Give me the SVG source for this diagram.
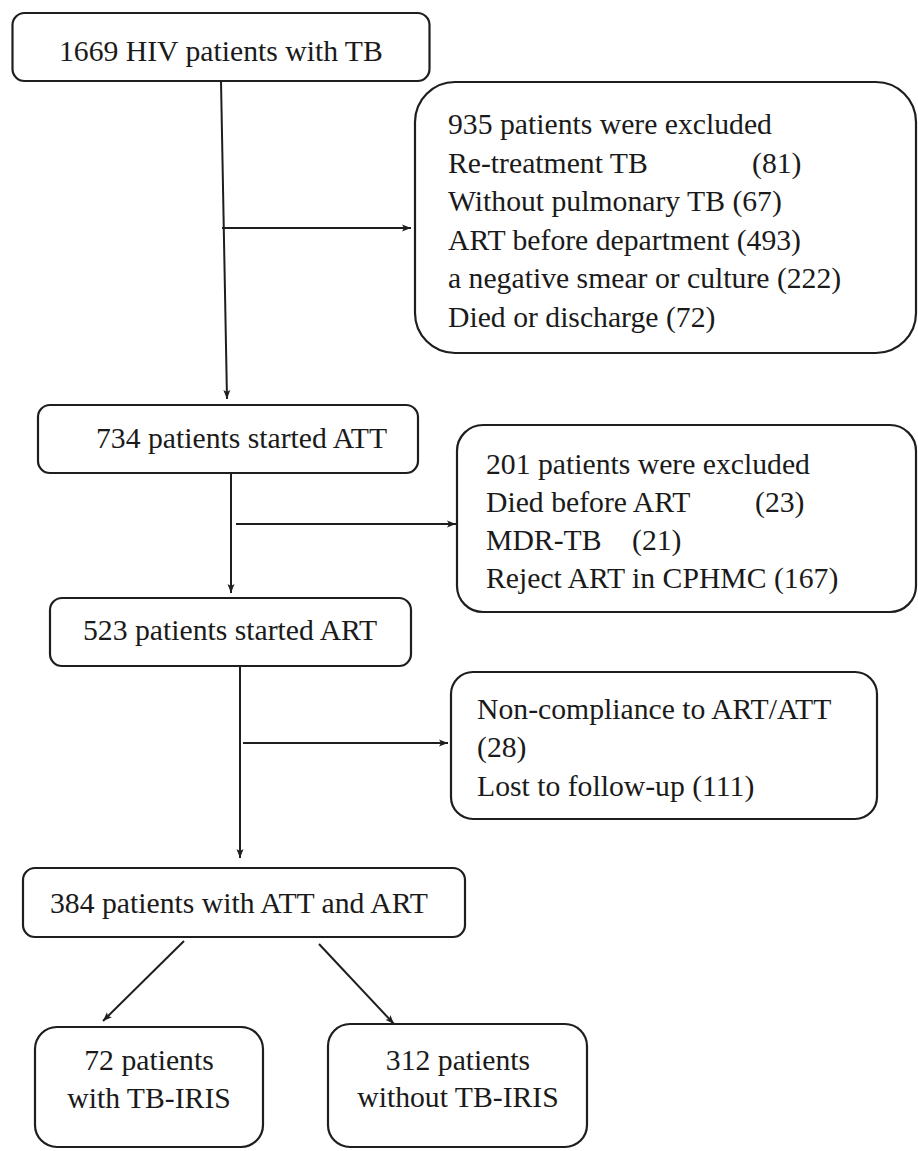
<svg xmlns="http://www.w3.org/2000/svg" width="918" height="1151" viewBox="0 0 918 1151">
<defs>
  <marker id="arr" markerUnits="userSpaceOnUse" markerWidth="10" markerHeight="8" refX="9" refY="4" orient="auto">
    <path d="M0,0.5 L9,4 L0,7.5 L2,4 z" fill="#1e1e1e"/>
  </marker>
</defs>
<rect width="918" height="1151" fill="#ffffff"/>

<g id="connectors" stroke="#1e1e1e" stroke-width="2" fill="none" marker-end="url(#arr)">
  <line x1="221" y1="81" x2="227" y2="399"/>
  <line x1="222" y1="228" x2="411" y2="228"/>
  <line x1="231" y1="474" x2="231" y2="593"/>
  <line x1="236" y1="524" x2="456" y2="524"/>
  <line x1="240" y1="666" x2="240" y2="858"/>
  <line x1="243" y1="743" x2="448" y2="743"/>
  <line x1="184" y1="941" x2="103" y2="1021"/>
  <line x1="319" y1="944" x2="394" y2="1024"/>
</g>

<g id="n1669">
  <rect x="12.5" y="13" width="417" height="68" rx="12" fill="#fff" stroke="#1e1e1e" stroke-width="2.2"/>
  <text x="59" y="61" style="font-family:'Liberation Serif','Times New Roman',serif;font-size:29.7px;fill:#1a1a1a">1669 HIV patients with TB</text>
</g>

<g id="n935">
  <rect x="415" y="82" width="501" height="271" rx="40" fill="#fff" stroke="#1e1e1e" stroke-width="2.2"/>
  <text x="448" y="134" style="font-family:'Liberation Serif','Times New Roman',serif;font-size:29.7px;fill:#1a1a1a">935 patients were excluded</text>
  <text x="448" y="172.5" style="font-family:'Liberation Serif','Times New Roman',serif;font-size:29.7px;fill:#1a1a1a">Re-treatment TB<tspan x="752">(81)</tspan></text>
  <text x="448" y="211" style="font-family:'Liberation Serif','Times New Roman',serif;font-size:29.7px;fill:#1a1a1a">Without pulmonary TB (67)</text>
  <text x="448" y="249.5" style="font-family:'Liberation Serif','Times New Roman',serif;font-size:29.7px;fill:#1a1a1a">ART before department (493)</text>
  <text x="448" y="288" style="font-family:'Liberation Serif','Times New Roman',serif;font-size:29.7px;fill:#1a1a1a">a negative smear or culture (222)</text>
  <text x="448" y="326.5" style="font-family:'Liberation Serif','Times New Roman',serif;font-size:29.7px;fill:#1a1a1a">Died or discharge (72)</text>
</g>

<g id="n734">
  <rect x="38" y="405" width="380" height="68" rx="12" fill="#fff" stroke="#1e1e1e" stroke-width="2.2"/>
  <text x="96" y="448" style="font-family:'Liberation Serif','Times New Roman',serif;font-size:29.7px;fill:#1a1a1a">734 patients started ATT</text>
</g>

<g id="n201">
  <rect x="457" y="425" width="459" height="187" rx="26" fill="#fff" stroke="#1e1e1e" stroke-width="2.2"/>
  <text x="486" y="474" style="font-family:'Liberation Serif','Times New Roman',serif;font-size:29.7px;fill:#1a1a1a">201 patients were excluded</text>
  <text x="486" y="512" style="font-family:'Liberation Serif','Times New Roman',serif;font-size:29.7px;fill:#1a1a1a">Died before ART<tspan x="755">(23)</tspan></text>
  <text x="486" y="550" style="font-family:'Liberation Serif','Times New Roman',serif;font-size:29.7px;fill:#1a1a1a">MDR-TB<tspan x="632">(21)</tspan></text>
  <text x="486" y="588" style="font-family:'Liberation Serif','Times New Roman',serif;font-size:29.7px;fill:#1a1a1a">Reject ART in CPHMC (167)</text>
</g>

<g id="n523">
  <rect x="50" y="598" width="361" height="68" rx="12" fill="#fff" stroke="#1e1e1e" stroke-width="2.2"/>
  <text x="83" y="640" style="font-family:'Liberation Serif','Times New Roman',serif;font-size:29.7px;fill:#1a1a1a">523 patients started ART</text>
</g>

<g id="nloss">
  <rect x="451" y="672" width="426" height="147" rx="22" fill="#fff" stroke="#1e1e1e" stroke-width="2.2"/>
  <text x="477" y="719" style="font-family:'Liberation Serif','Times New Roman',serif;font-size:29.7px;fill:#1a1a1a">Non-compliance to ART/ATT</text>
  <text x="477" y="757" style="font-family:'Liberation Serif','Times New Roman',serif;font-size:29.7px;fill:#1a1a1a">(28)</text>
  <text x="477" y="796" style="font-family:'Liberation Serif','Times New Roman',serif;font-size:29.7px;fill:#1a1a1a">Lost to follow-up (111)</text>
</g>

<g id="n384">
  <rect x="23" y="868" width="442" height="69" rx="12" fill="#fff" stroke="#1e1e1e" stroke-width="2.2"/>
  <text x="50" y="913" style="font-family:'Liberation Serif','Times New Roman',serif;font-size:29.7px;fill:#1a1a1a">384 patients with ATT and ART</text>
</g>

<g id="n72">
  <rect x="35" y="1027" width="228" height="120" rx="22" fill="#fff" stroke="#1e1e1e" stroke-width="2.2"/>
  <text x="149" y="1070" text-anchor="middle" style="font-family:'Liberation Serif','Times New Roman',serif;font-size:29.7px;fill:#1a1a1a">72 patients</text>
  <text x="149" y="1108" text-anchor="middle" style="font-family:'Liberation Serif','Times New Roman',serif;font-size:29.7px;fill:#1a1a1a">with TB-IRIS</text>
</g>

<g id="n312">
  <rect x="328" y="1024" width="259" height="123" rx="22" fill="#fff" stroke="#1e1e1e" stroke-width="2.2"/>
  <text x="458" y="1070" text-anchor="middle" style="font-family:'Liberation Serif','Times New Roman',serif;font-size:29.7px;fill:#1a1a1a">312 patients</text>
  <text x="458" y="1107" text-anchor="middle" style="font-family:'Liberation Serif','Times New Roman',serif;font-size:29.7px;fill:#1a1a1a">without TB-IRIS</text>
</g>
</svg>
